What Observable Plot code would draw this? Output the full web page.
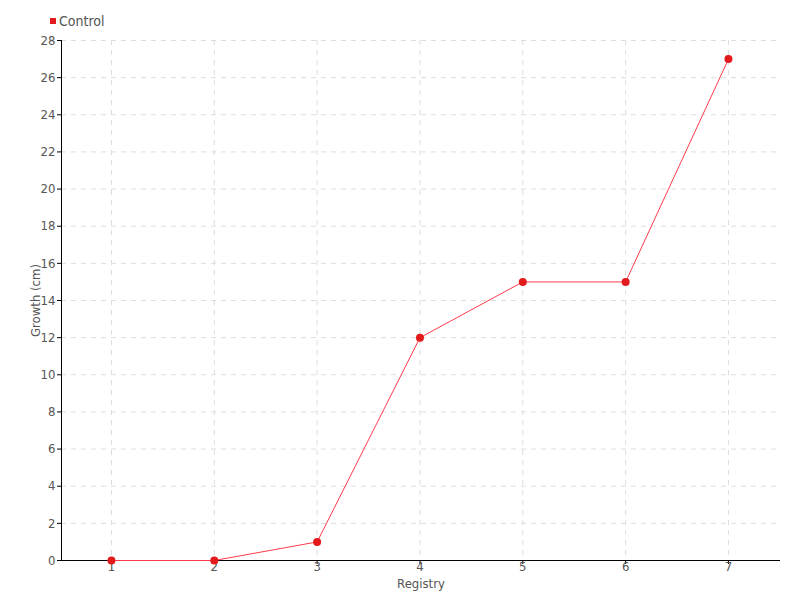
<!DOCTYPE html>
<html>
<head>
<meta charset="utf-8">
<script src="https://cdn.jsdelivr.net/npm/d3@7"></script>
<script src="https://cdn.jsdelivr.net/npm/@observablehq/plot@0.6"></script>
<style>
  body { margin: 0; background: #fff; }
  #wrap { position: relative; width: 800px; height: 600px; font-family: "DejaVu Sans Condensed", "Liberation Sans Narrow", sans-serif; font-stretch: condensed; }
  #legend { position: absolute; left: 50px; top: 13px; font-size: 14px; color: #555; display: flex; align-items: center; }
  #legend span.sw { display: inline-block; width: 6px; height: 6px; background: #e31a1c; margin-right: 3px; }
  #chart { position: absolute; left: 0; top: 0; }
</style>
</head>
<body>
<div id="wrap">
  <div id="chart"></div>
  <div id="legend"><span class="sw"></span>Control</div>
</div>
<script>
const registry = [1, 2, 3, 4, 5, 6, 7];
const growth = [0, 0, 1, 12, 15, 15, 27];
const yTicks = [0, 2, 4, 6, 8, 10, 12, 14, 16, 18, 20, 22, 24, 26, 28];
const seriesName = "Control";

const data = registry.map((r, i) => ({registry: r, growth: growth[i], series: seriesName}));
const xDomain = [0.514, 7.506];

const chart = Plot.plot({
  width: 800,
  height: 600,
  marginTop: 40,
  marginBottom: 40,
  marginLeft: 61,
  marginRight: 20,
  style: { fontFamily: '"DejaVu Sans Condensed", "Liberation Sans Narrow", sans-serif', fontStretch: "condensed", fontSize: "13px", color: "#555", background: "#fff" },
  x: { domain: xDomain },
  y: { domain: [0, 28] },
  marks: [
    Plot.gridX(registry, { stroke: "#ddd", strokeOpacity: 1, strokeDasharray: "5,5" }),
    Plot.gridY(yTicks, { stroke: "#ddd", strokeOpacity: 1, strokeDasharray: "5,5" }),
    Plot.axisX(registry, { tickSize: 4, tickPadding: -3, fontSize: 13, fill: "#555", stroke: "#000", label: null }),
    Plot.axisY(yTicks, { tickSize: 4, tickPadding: 2, fontSize: 13, fill: "#555", stroke: "#000", label: null }),
    Plot.ruleY([0], { stroke: "#000" }),
    Plot.ruleX([xDomain[0]], { stroke: "#000" }),
    Plot.text(["Registry"], { frameAnchor: "bottom", dy: 27, fontSize: 13, fill: "#555" }),
    Plot.text(["Growth (cm)"], { frameAnchor: "left", textAnchor: "middle", dx: -26, rotate: -90, fontSize: 13, fill: "#555" }),
    Plot.line(data, { x: "registry", y: "growth", stroke: "#ff3b4b", strokeWidth: 1 }),
    Plot.dot(data, { x: "registry", y: "growth", r: 4, fill: "#e31a1c", stroke: "none" })
  ]
});
document.getElementById("chart").appendChild(chart);
</script>
</body>
</html>
